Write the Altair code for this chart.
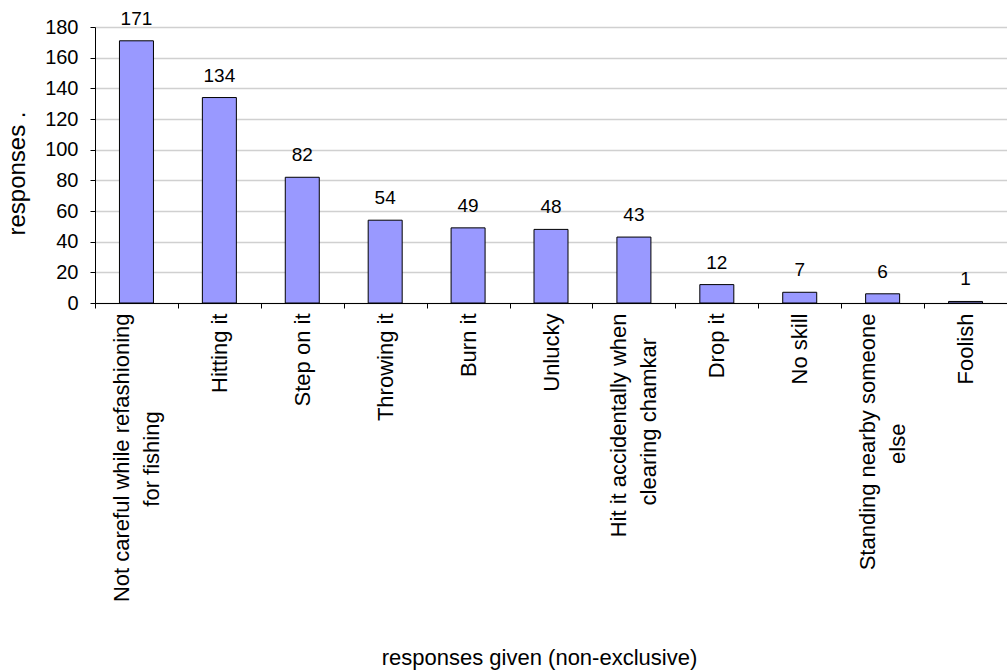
import altair as alt
import pandas as pd

NB = "\u00a0"
ZW = "\u200b"
categories = [
    "Not careful while refashioning\nfor fishing" + NB * 16 + ZW,
    "Hitting it",
    "Step on it",
    "Throwing it",
    "Burn it",
    "Unlucky",
    "Hit it accidentally when\nclearing chamkar" + NB * 4 + ZW,
    "Drop it",
    "No skill",
    "Standing nearby someone\nelse" + NB * 18 + ZW,
    "Foolish",
]
values = [171, 134, 82, 54, 49, 48, 43, 12, 7, 6, 1]
y_ticks = [0, 20, 40, 60, 80, 100, 120, 140, 160, 180]

df = pd.DataFrame({"cat": categories, "val": values})
FONT = "Liberation Sans"

is_multi = "isString(datum.value) && indexof(datum.value, '\\n') >= 0"

x_enc = alt.X(
    "cat:N",
    sort=None,
    scale=alt.Scale(paddingInner=0, paddingOuter=0),
    axis=alt.Axis(
        title="responses given (non-exclusive)",
        labelAngle=270,
        labelAlign="right",
        labelBaseline="middle",
        labelExpr="isString(datum.value) ? split(datum.value, '\\n') : ''",
        labelOffset={"condition": {"test": is_multi, "value": -15}, "value": 0},
        labelFont=FONT,
        labelFontSize=22,
        labelLineHeight=30,
        labelColor="black",
        labelPadding=5,
        labelLimit=0,
        tickBand="extent",
        tickSize=5,
        tickColor="black",
        domainColor="black",
        titleFont=FONT,
        titleFontSize=22,
        titleFontWeight="normal",
        titleColor="black",
        titleX=444,
        titleY=354,
        titleBaseline="middle",
        titleAlign="center",
        grid=False,
    ),
)

y_enc = alt.Y(
    "val:Q",
    scale=alt.Scale(domain=[0, 180], nice=False),
    axis=alt.Axis(
        title="responses .",
        values=y_ticks,
        labelFont=FONT,
        labelFontSize=20,
        labelColor="black",
        labelPadding=12,
        tickSize=5,
        tickColor="black",
        domainColor="black",
        gridColor="#d0d0d0",
        gridWidth=1.5,
        titleFont=FONT,
        titleFontSize=24,
        titleFontWeight="normal",
        titleColor="black",
        titleX=-78,
        titleY=146,
        titleBaseline="middle",
        titleAlign="center",
        titleAngle=270,
    ),
)

base = alt.Chart(df).encode(x=x_enc, y=y_enc)

bars = base.mark_bar(size=34, color="#9999FF", stroke="black", strokeWidth=1)

labels = base.mark_text(
    font=FONT, fontSize=19, color="black", baseline="alphabetic", dy=-16
).encode(text="val:Q")

chart = (
    alt.layer(bars, labels)
    .properties(
        width=912,
        height=276,
        autosize=alt.AutoSizeParams(type="none"),
        padding={"left": 95, "top": 27, "right": 0, "bottom": 367},
        background="white",
    )
    .configure_view(stroke=None)
)

chart.save("out.html", embed_options={"renderer": "svg", "actions": False})
